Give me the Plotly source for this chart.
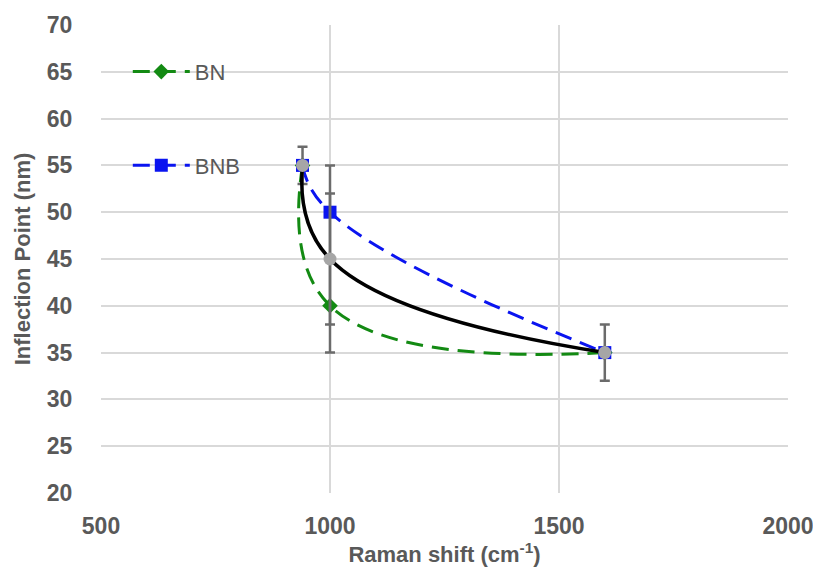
import plotly.graph_objects as go

# values
raman = [940, 1000, 1600]
bn = [55, 40, 35]
bnb = [55, 50, 35]
mean_ip = [55, 45, 35]
mean_err = [2, 10, 3]
extra_x = [1000]
extra_y = [45]
extra_err = [7]

grey_txt = "#595959"
err_col = "#6b6b6b"

fig = go.Figure()

fig.add_trace(go.Scatter(
    x=raman, y=bn, name="BN", mode="lines+markers",
    line=dict(color="#138a13", width=3, dash="17px,9px", shape="spline", smoothing=1.3),
    marker=dict(symbol="diamond", size=12, color="#138a13"),
    legend="legend",
))
fig.add_trace(go.Scatter(
    x=raman, y=bnb, name="BNB", mode="lines+markers",
    line=dict(color="#0a14f0", width=3, dash="17px,9px", shape="spline", smoothing=1.3),
    marker=dict(symbol="square", size=13, color="#0a14f0"),
    legend="legend2",
))
fig.add_trace(go.Scatter(
    x=extra_x, y=extra_y, mode="markers", showlegend=False,
    marker=dict(size=1, color="rgba(0,0,0,0)"),
    error_y=dict(type="data", array=extra_err, color=err_col, thickness=2.5, width=5),
))
fig.add_trace(go.Scatter(
    x=raman, y=mean_ip, mode="lines+markers", showlegend=False,
    line=dict(color="black", width=3.5, shape="spline", smoothing=1.3),
    marker=dict(symbol="circle", size=13, color="#a6a6a6"),
    error_y=dict(type="data", array=mean_err, color=err_col, thickness=2.5, width=5),
))

tick_font = dict(family="Liberation Sans", size=23, color=grey_txt)
title_font = dict(family="Liberation Sans", size=22, color=grey_txt)
leg_font = dict(family="Liberation Sans", size=22, color=grey_txt)

# the page body adds an 8px offset, so the figure is drawn 8px smaller
fig.update_layout(
    width=813, height=562,
    margin=dict(l=93, r=33, t=17, b=77),
    paper_bgcolor="white", plot_bgcolor="white",
    font=dict(family="Liberation Sans", color=grey_txt),
    legend=dict(x=0.039, y=0.9, xanchor="left", yanchor="middle", itemwidth=57,
                bgcolor="rgba(0,0,0,0)", font=leg_font),
    legend2=dict(x=0.039, y=0.7, xanchor="left", yanchor="middle", itemwidth=57,
                 bgcolor="rgba(0,0,0,0)", font=leg_font),
    xaxis=dict(
        range=[500, 2000], dtick=500, tick0=500, automargin=False,
        showgrid=True, gridcolor="#d9d9d9", gridwidth=1.5,
        zeroline=False, showline=False,
        ticks="outside", ticklen=12, tickcolor="rgba(0,0,0,0)",
        tickfont=tick_font,
        title=dict(text="<b>Raman shift (cm<sup>-1</sup>)</b>", font=title_font, standoff=9),
    ),
    yaxis=dict(
        range=[20, 70], dtick=5, tick0=20, automargin=False,
        showgrid=True, gridcolor="#d9d9d9", gridwidth=1.5,
        zeroline=False, showline=False,
        ticks="outside", ticklen=23, tickcolor="rgba(0,0,0,0)",
        tickfont=tick_font,
        title=dict(text="<b>Inflection Point (nm)</b>", font=title_font, standoff=10),
    ),
)
fig.update_xaxes(tickprefix="<b>", ticksuffix="</b>")
fig.update_yaxes(tickprefix="<b>", ticksuffix="</b>")

fig.write_html("out.html")
